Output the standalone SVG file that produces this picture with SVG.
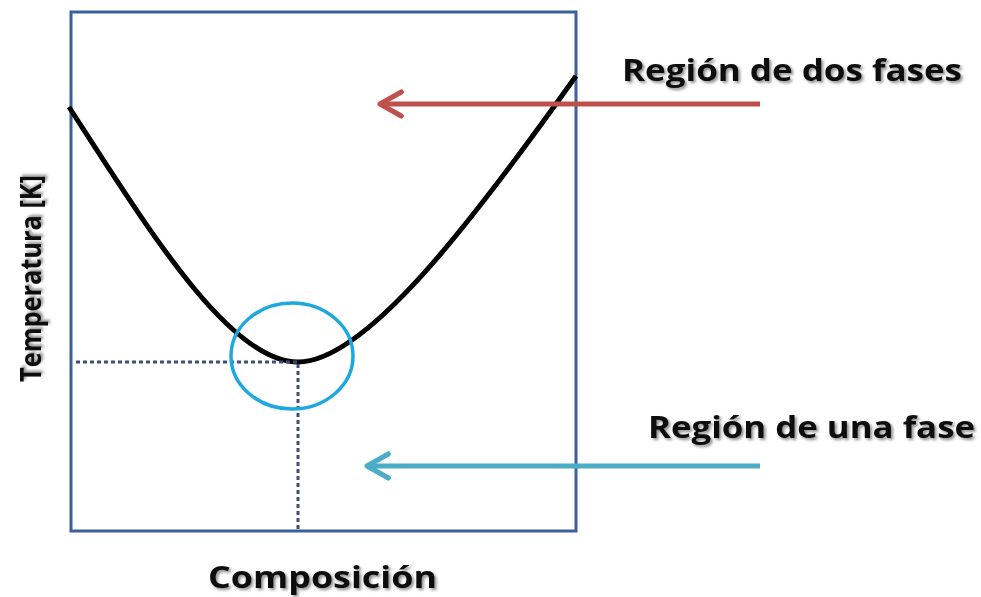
<svg xmlns="http://www.w3.org/2000/svg" width="981" height="597" viewBox="0 0 981 597">
<defs>
<style>
.lbl{font-family:"Open Sans","Liberation Sans",sans-serif;font-weight:bold;fill:#111;}
</style>
<filter id="sh" x="-10%" y="-20%" width="130%" height="160%">
<feGaussianBlur in="SourceAlpha" stdDeviation="1.5"/>
<feOffset dx="2" dy="2" result="b"/>
<feComponentTransfer><feFuncA type="linear" slope="0.45"/></feComponentTransfer>
<feMerge><feMergeNode/><feMergeNode in="SourceGraphic"/></feMerge>
</filter>
<marker id="ahR" viewBox="0 0 10 10" refX="8.6" refY="5" markerWidth="6" markerHeight="6" orient="auto" markerUnits="strokeWidth">
<path d="M1.5,1 L8.6,5 L1.5,9" fill="none" stroke="#c0504d" stroke-width="1.7" stroke-linecap="round" stroke-linejoin="round"/>
</marker>
<marker id="ahB" viewBox="0 0 10 10" refX="8.6" refY="5" markerWidth="6" markerHeight="6" orient="auto" markerUnits="strokeWidth">
<path d="M1.5,1 L8.6,5 L1.5,9" fill="none" stroke="#4bacc6" stroke-width="1.7" stroke-linecap="round" stroke-linejoin="round"/>
</marker>
</defs>
<rect width="981" height="597" fill="#fff"/>
<g id="frame">
<rect x="71" y="12" width="505" height="519" fill="none" stroke="#3a5f9a" stroke-width="3"/>
</g>
<g id="curve">
<path d="M69,107 C150,232 230,362 298,362 C365,362 470,225 576,76" fill="none" stroke="#000" stroke-width="5"/>
</g>
<g id="guides">
<path d="M76,362 H298 V531" fill="none" stroke="#3b4f7a" stroke-width="3" stroke-dasharray="4,3"/>
</g>
<g id="circle">
<ellipse cx="292" cy="356" rx="61" ry="53" fill="none" stroke="#1ea8e0" stroke-width="3.5"/>
</g>
<g id="connectors">
<path d="M760,104 H380" fill="none" stroke="#c0504d" stroke-width="5" marker-end="url(#ahR)"/>
<path d="M760,466 H367" fill="none" stroke="#4bacc6" stroke-width="5" marker-end="url(#ahB)"/>
</g>
<g id="label-dos">
<text class="lbl" x="622" y="81" font-size="31" textLength="340" lengthAdjust="spacingAndGlyphs" filter="url(#sh)">Región de dos fases</text>
</g>
<g id="label-una">
<text class="lbl" x="648" y="438" font-size="31" textLength="327" lengthAdjust="spacingAndGlyphs" filter="url(#sh)">Región de una fase</text>
</g>
<g id="label-x">
<text class="lbl" x="208" y="588" font-size="31" textLength="229" lengthAdjust="spacingAndGlyphs" filter="url(#sh)">Composición</text>
</g>
<g id="label-y">
<text class="lbl" transform="translate(41,382) rotate(-90)" x="0" y="0" font-size="29" textLength="207" lengthAdjust="spacingAndGlyphs" filter="url(#sh)">Temperatura [K]</text>
</g>
</svg>
